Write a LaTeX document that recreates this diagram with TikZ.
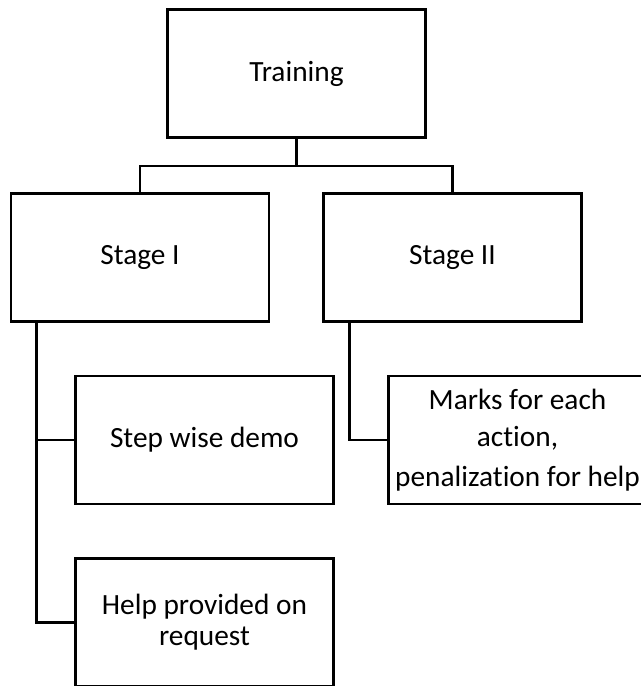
\documentclass[tikz,border=0pt]{standalone}
\usepackage{fontspec}
\setmainfont{Carlito}[Ligatures=NoCommon]
\begin{document}
\begin{tikzpicture}
			[x=0.75pt,y=-0.75pt,box/.style={rectangle,draw,line width=2.2pt,minimum width=193.5pt,minimum height=96pt,align=center,font=\fontsize{22}{23.3}\selectfont},link/.style={line width=2.2pt}]
			\useasboundingbox (0,0) rectangle (641,686);
			\node[box,name=train] at (296.5,73.5) {Training};
			\node[box,name=st1] at (140,257.5) {Stage I};
			\node[box,name=st2] at (452.5,257.5) {Stage II};
			\node[box,name=step] at (204.5,440) {Step wise demo};
			\node[box,name=help] at (204.5,622.5) {Help provided on\\request};
			\node[box,name=marks] at (517.5,440) {Marks for each\\[5pt] action,\\[6.5pt] penalization for help};
			\draw[link](train.south)--++(0,27)-|(st1.north);
			\draw[link](train.south)--++(0,27)-|(st2.north);
			\draw[link]([xshift=20.25pt]st1.south west)|-(step.west);
			\draw[link]([xshift=20.25pt]st1.south west)|-(help.west);
			\draw[link]([xshift=20.25pt]st2.south west)|-(marks.west);
		\end{tikzpicture}
\end{document}
